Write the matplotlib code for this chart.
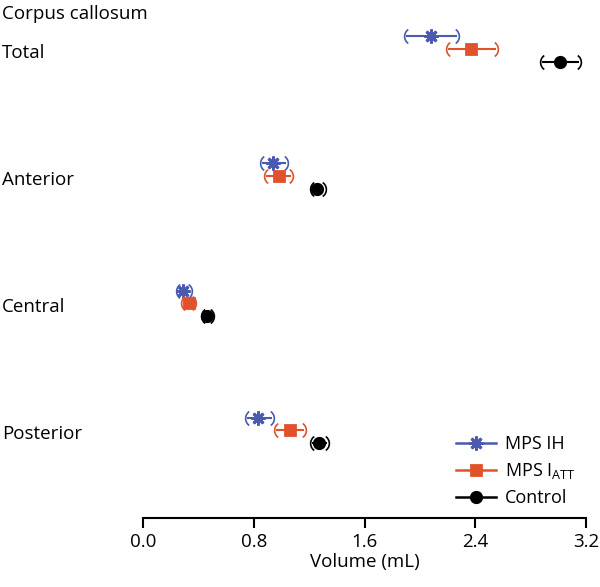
import numpy as np
import matplotlib.pyplot as plt
from matplotlib.path import Path

plt.rcParams['font.family'] = ['Open Sans', 'DejaVu Sans']

regions = ['Total', 'Anterior', 'Central', 'Posterior']
groups = ['MPS IH', r'MPS I$_{\mathregular{ATT}}$', 'Control']

# mean volume and error range (mL), per region
ih_mean = [2.08, 0.94, 0.29, 0.83]
ih_lo = [1.90, 0.86, 0.25, 0.75]
ih_hi = [2.27, 1.03, 0.34, 0.93]

att_mean = [2.37, 0.98, 0.33, 1.06]
att_lo = [2.20, 0.89, 0.29, 0.96]
att_hi = [2.55, 1.07, 0.37, 1.16]

ctl_mean = [3.01, 1.26, 0.46, 1.27]
ctl_lo = [2.88, 1.22, 0.43, 1.22]
ctl_hi = [3.15, 1.31, 0.50, 1.33]

blue = '#4a5aae'
red = '#e0522c'
black = '#000000'

# bracket-shaped caps
t = np.linspace(np.radians(125), np.radians(235), 20)
left_cap = Path(np.column_stack([np.cos(t) + 0.78, np.sin(t)]))
right_cap = Path(np.column_stack([-np.cos(t) - 0.78, np.sin(t)]))

fig = plt.figure(figsize=(6, 5.87), dpi=100)
ax = fig.add_axes([143/600, 69/587, 443/600, 518/587])

series = [
    (ih_mean, ih_lo, ih_hi, blue, (8, 2, 0), 10, -0.1),
    (att_mean, att_lo, att_hi, red, 's', 7, 0.0),
    (ctl_mean, ctl_lo, ctl_hi, black, 'o', 7.5, 0.1),
]

pos = np.arange(len(regions))
for (m, lo, hi, c, mk, ms, off), lab in zip(series, groups):
    m, lo, hi = np.array(m), np.array(lo), np.array(hi)
    y = pos + off
    ax.errorbar(m, y, xerr=[m - lo, hi - m], fmt='none', ecolor=c,
                elinewidth=1.5, capsize=0)
    ax.plot(lo, y, ls='none', marker=left_cap, ms=10, mfc='none', mec=c, mew=1.2)
    ax.plot(hi, y, ls='none', marker=right_cap, ms=10, mfc='none', mec=c, mew=1.2)
    ax.plot(m, y, ls='none', marker=mk, ms=ms, color=c, mec=c, mew=2)
    ax.plot([], [], color=c, marker=mk, ms=ms, mew=2, lw=1.8, label=lab)

for i, r in enumerate(regions):
    ax.text(-141/443, i + 0.03, r, transform=ax.get_yaxis_transform(),
            fontsize=13.5, va='center', ha='left')

fig.text(2/600, 1 - 14/587, 'Corpus callosum', fontsize=13.5, va='center', ha='left')

ax.set_xlim(0, 3.2)
ax.set_ylim(3.69, -0.386)
ax.set_xticks([0.0, 0.8, 1.6, 2.4, 3.2])
ax.set_xticklabels(['0.0', '0.8', '1.6', '2.4', '3.2'])
ax.set_yticks([])
for s in ['left', 'right', 'top']:
    ax.spines[s].set_visible(False)
ax.spines['bottom'].set_linewidth(1.5)
ax.tick_params(axis='x', length=7, width=1.5, labelsize=13.5, pad=4)
ax.set_xlabel('Volume (mL)', fontsize=13.5, labelpad=1)

ax.legend(loc='lower right', bbox_to_anchor=(1.0, 0.0), frameon=False,
          fontsize=13, handlelength=2.2, handletextpad=0.5, labelspacing=0.45,
          borderaxespad=0.2)

plt.savefig('out.png', dpi=100)
